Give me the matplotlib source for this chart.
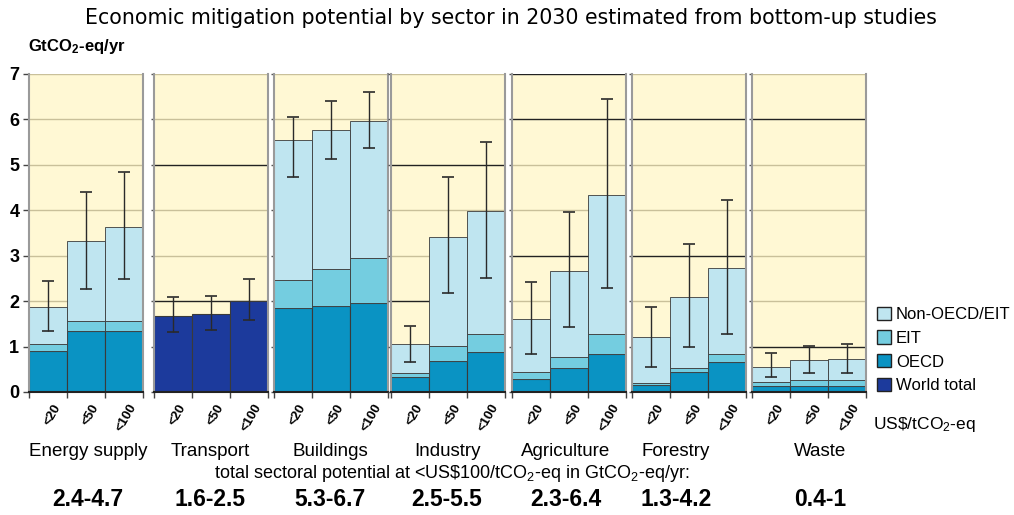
import numpy as np
import matplotlib
matplotlib.use("Agg")
import matplotlib.pyplot as plt
from matplotlib.patches import Patch

plt.rcParams['font.family'] = ['Liberation Sans', 'DejaVu Sans']
plt.rcParams['mathtext.default'] = 'regular'

# --- data (GtCO2-eq/yr) ---
sectors = ['Energy supply', 'Transport', 'Buildings', 'Industry',
           'Agriculture', 'Forestry', 'Waste']
price_labels = ['<20', '<50', '<100']
ranges = ['2.4-4.7', '1.6-2.5', '5.3-6.7', '2.5-5.5', '2.3-6.4', '1.3-4.2', '0.4-1']

# cumulative tops of the stacked segments (None = only world total known)
oecd_top = [[0.91, 1.34, 1.34], None, [1.84, 1.90, 1.97], [0.34, 0.68, 0.87],
            [0.28, 0.52, 0.84], [0.15, 0.45, 0.67], [0.13, 0.13, 0.13]]
eit_top = [[1.06, 1.57, 1.57], None, [2.47, 2.70, 2.94], [0.41, 1.02, 1.28],
           [0.43, 0.78, 1.28], [0.20, 0.52, 0.84], [0.22, 0.26, 0.26]]
total_top = [[1.88, 3.32, 3.64], None, [5.54, 5.76, 5.97], [1.05, 3.42, 3.99],
             [1.60, 2.67, 4.34], [1.20, 2.10, 2.74], [0.56, 0.70, 0.73]]
world_total = [None, [1.67, 1.72, 2.01], None, None, None, None, None]

err_low = [[1.35, 2.26, 2.48], [1.31, 1.37, 1.59], [4.73, 5.13, 5.38], [0.66, 2.17, 2.52],
           [0.84, 1.43, 2.30], [0.56, 0.98, 1.28], [0.34, 0.41, 0.41]]
err_high = [[2.44, 4.40, 4.84], [2.09, 2.11, 2.48], [6.05, 6.41, 6.61], [1.46, 4.73, 5.51],
            [2.42, 3.97, 6.45], [1.87, 3.26, 4.23], [0.85, 1.01, 1.06]]

# gridlines drawn dark in each panel
dark_grid = [[], [2, 5], [], [2, 5], [3, 6, 7], [3, 6], [1, 6]]

# --- style ---
c_non = '#bfe5f0'
c_eit = '#74cde0'
c_oecd = '#0a93c3'
c_world = '#1c3a9c'
c_bg = '#fff8d4'
c_grid = '#c9c09a'
c_edge = '#3a3a3a'

W, H = 1014, 515
fig = plt.figure(figsize=(W / 100, H / 100), dpi=100)

panel_left = [29, 154, 274, 391, 512, 632, 752]
panel_w = 114
y_zero, y_top = 392, 74

def fx(px):
    return px / W

def fy(py):
    return 1 - py / H

x = np.arange(3)
for i, sector in enumerate(sectors):
    ax = fig.add_axes([fx(panel_left[i]), fy(y_zero), panel_w / W, (y_zero - y_top) / H])
    ax.set_facecolor(c_bg)
    ax.set_xlim(-0.5, 2.5)
    ax.set_ylim(0, 7)

    for g in range(1, 8):
        dark = g in dark_grid[i]
        ax.axhline(g, color='#222222' if dark else c_grid, lw=1.0, zorder=0.5)

    if world_total[i] is not None:
        ax.bar(x, world_total[i], width=1, color=c_world, edgecolor=c_edge, lw=0.8, zorder=2)
    else:
        o = np.array(oecd_top[i])
        e = np.array(eit_top[i])
        t = np.array(total_top[i])
        ax.bar(x, o, width=1, color=c_oecd, edgecolor=c_edge, lw=0.8, zorder=2)
        ax.bar(x, e - o, bottom=o, width=1, color=c_eit, edgecolor=c_edge, lw=0.6, zorder=2)
        ax.bar(x, t - e, bottom=e, width=1, color=c_non, edgecolor=c_edge, lw=0.6, zorder=2)

    lo = np.array(err_low[i])
    hi = np.array(err_high[i])
    mid = (lo + hi) / 2
    ax.errorbar(x, mid, yerr=[mid - lo, hi - mid], fmt='none', ecolor='#2a2a2a',
                elinewidth=1, capsize=4, capthick=1.2, zorder=3)

    ax.set_xticks(x + 0.12)
    ax.set_xticklabels(price_labels, rotation=60, ha='right', va='top',
                       rotation_mode='anchor', fontsize=9.5, fontweight='bold')
    ax.tick_params(axis='x', which='major', length=0, pad=7)
    ax.set_xticks([-0.5, 0.5, 1.5, 2.5], minor=True)
    ax.tick_params(axis='x', which='minor', length=4, width=1, color='#444444')

    ax.set_yticks(range(8))
    if i == 0:
        ax.set_yticklabels([str(v) for v in range(8)], fontsize=13, fontweight='bold')
        ax.tick_params(axis='y', length=4, width=1, color='#444444', pad=3)
    else:
        ax.set_yticklabels([])
        ax.tick_params(axis='y', length=2, width=1, color='#555555')

    for side in ['left', 'right']:
        ax.spines[side].set_color('#9a9a9a')
        ax.spines[side].set_linewidth(1.5)
    ax.spines['top'].set_visible(False)
    ax.spines['bottom'].set_color('#222222')
    ax.spines['bottom'].set_linewidth(1.5)

# titles and labels
fig.text(fx(511), fy(18), 'Economic mitigation potential by sector in 2030 estimated from bottom-up studies',
         ha='center', va='center', fontsize=14.8, family='DejaVu Sans')
fig.text(fx(28), fy(46), 'GtCO$_2$-eq/yr', ha='left', va='center', fontsize=12, fontweight='bold')
fig.text(fx(873), fy(425), 'US\\$/tCO$_2$-eq', ha='left', va='center', fontsize=12.5)

label_x = [88, 210, 330, 447, 566, 676, 820]
for lx, name, rng in zip(label_x, sectors, ranges):
    fig.text(fx(lx), fy(452), name, ha='center', va='center', fontsize=13.5)
    fig.text(fx(lx), fy(500), rng, ha='center', va='center', fontsize=16.5, fontweight='bold')
fig.text(fx(452), fy(473), 'total sectoral potential at <US\\$100/tCO$_2$-eq in GtCO$_2$-eq/yr:',
         ha='center', va='center', fontsize=13)

handles = [Patch(facecolor=c_non, edgecolor='#222222', label='Non-OECD/EIT'),
           Patch(facecolor=c_eit, edgecolor='#222222', label='EIT'),
           Patch(facecolor=c_oecd, edgecolor='#222222', label='OECD'),
           Patch(facecolor=c_world, edgecolor='#222222', label='World total')]
fig.legend(handles=handles, loc='upper left', bbox_to_anchor=(fx(870), fy(300)),
           frameon=False, fontsize=12, handlelength=0.85, handleheight=0.85,
           handletextpad=0.3, labelspacing=0.5, borderaxespad=0)

fig.savefig('out.png', dpi=100)
